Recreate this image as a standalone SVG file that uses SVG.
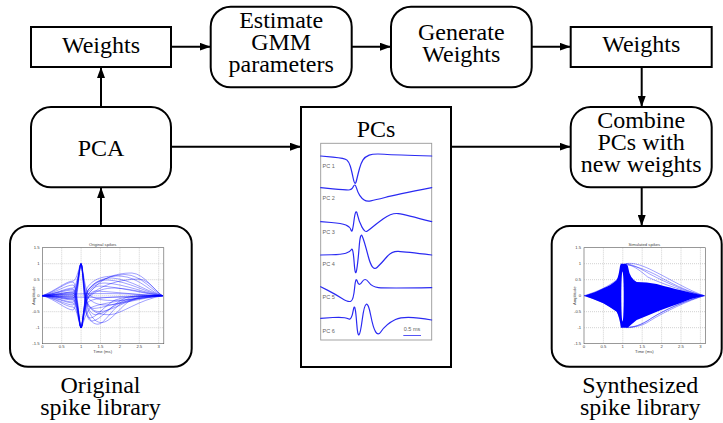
<svg xmlns="http://www.w3.org/2000/svg" width="723" height="423" viewBox="0 0 723 423">
<style>
.box{fill:#fff;stroke:#000;stroke-width:2}
.lbl{font-family:"Liberation Serif","DejaVu Serif",serif;font-size:24px;fill:#000;text-anchor:middle}
.conn{fill:none;stroke:#000;stroke-width:2;marker-end:url(#ah)}
.frame{fill:#fff;stroke:#555;stroke-width:0.6}
.grid{fill:none;stroke:#999;stroke-width:0.45;stroke-dasharray:1 1}
.tick{font-family:"Liberation Sans",Arial,sans-serif;font-size:4.2px;fill:#444}
.tr{fill:none;stroke:#0000ff;stroke-width:0.5;stroke-opacity:0.75}
.pc{fill:none;stroke:#2a2af2;stroke-width:1.2;stroke-linejoin:round;stroke-linecap:round}
.pcl{font-family:"Liberation Sans",Arial,sans-serif;font-size:5.5px;fill:#666}
</style>
<defs>
<marker id="ah" markerUnits="userSpaceOnUse" markerWidth="11" markerHeight="8" viewBox="0 0 11 8" refX="11" refY="4" orient="auto">
<path d="M0,0 L11,4 L0,8 z" fill="#000"/>
</marker>
<g id="axes">
<rect class="frame" x="42.3" y="247.7" width="121.5" height="96"/>
<path class="grid" d="M61.7,247.7V343.7M81.1,247.7V343.7M100.5,247.7V343.7M119.9,247.7V343.7M139.3,247.7V343.7M158.7,247.7V343.7M42.3,263.7H163.8M42.3,279.7H163.8M42.3,295.7H163.8M42.3,311.7H163.8M42.3,327.7H163.8"/>
<g class="tick" text-anchor="end">
<text x="39.5" y="249.2">1.5</text><text x="39.5" y="265.2">1</text><text x="39.5" y="281.2">0.5</text><text x="39.5" y="297.2">0</text><text x="39.5" y="313.2">-0.5</text><text x="39.5" y="329.2">-1</text><text x="39.5" y="345.2">-1.5</text>
</g>
<g class="tick" text-anchor="middle">
<text x="42.3" y="348.3">0</text><text x="61.7" y="348.3">0.5</text><text x="81.1" y="348.3">1</text><text x="100.5" y="348.3">1.5</text><text x="119.9" y="348.3">2</text><text x="139.3" y="348.3">2.5</text><text x="158.7" y="348.3">3</text>
<text x="102.7" y="352.6">Time (ms)</text>
<text x="0" y="0" transform="translate(34.5,295.7) rotate(-90)">Amplitude</text>
</g>
</g>
</defs>
<rect width="723" height="423" fill="#fff"/>

<g id="connectors">
<path class="conn" d="M171,46.7H210.7"/>
<path class="conn" d="M351.7,46.7H391"/>
<path class="conn" d="M531.7,46.7H570.7"/>
<path class="conn" d="M101,107V67"/>
<path class="conn" d="M101,226V187.3"/>
<path class="conn" d="M171,146.7H301"/>
<path class="conn" d="M451,146.7H570.7"/>
<path class="conn" d="M641.7,67V107"/>
<path class="conn" d="M641.7,187.3V226"/>
</g>

<g id="weights-left">
<rect class="box" x="31" y="27" width="140" height="40"/>
<text class="lbl" x="101" y="52.5">Weights</text>
</g>
<g id="estimate-gmm">
<rect class="box" x="210.7" y="6.7" width="141" height="80.6" rx="20"/>
<text class="lbl" x="281.2" y="27.5">Estimate</text>
<text class="lbl" x="281.2" y="49.5">GMM</text>
<text class="lbl" x="281.2" y="71.5">parameters</text>
</g>
<g id="generate-weights">
<rect class="box" x="391" y="6.7" width="140.7" height="80.6" rx="20"/>
<text class="lbl" x="461.3" y="40">Generate</text>
<text class="lbl" x="461.3" y="61.7">Weights</text>
</g>
<g id="weights-right">
<rect class="box" x="570.7" y="27" width="141" height="40"/>
<text class="lbl" x="641.2" y="52">Weights</text>
</g>
<g id="pca">
<rect class="box" x="31" y="107" width="140" height="80.3" rx="20"/>
<text class="lbl" x="101" y="155.7">PCA</text>
</g>
<g id="combine">
<rect class="box" x="570.7" y="107" width="141" height="80.3" rx="20"/>
<text class="lbl" x="641.2" y="128.3">Combine</text>
<text class="lbl" x="641.2" y="150">PCs with</text>
<text class="lbl" x="641.2" y="171.7">new weights</text>
</g>

<g id="pcs">
<rect class="box" x="301" y="107" width="150" height="260"/>
<text class="lbl" x="376" y="137.3">PCs</text>
<rect x="320.7" y="143.3" width="111" height="196.7" fill="#fff" stroke="#999" stroke-width="0.9"/>
<path class="pc" d="M320.7,156 L332.85,157.15 Q345,158.3 347,160.15 Q349,162 350.25,166 Q351.5,170 353.25,178.5 Q355,187 356.5,180.5 Q358,174 359.5,168.5 Q361,163 363,159.85 Q365,156.7 369.15,155.1 Q373.3,153.5 384.15,154.25 Q395,155 431.7,156"/>
<path class="pc" d="M320.7,187.7 L332.85,188.85 Q345,190 348.35,190 Q351.7,190 353.35,186.5 Q355,183 356.35,187.65 Q357.7,192.3 359.7,195.3 Q361.7,198.3 364.2,200 Q366.7,201.7 370.85,200.85 Q375,200 385,197.5 Q395,195 431.7,187.7"/>
<path class="pc" d="M320.7,221.7 L331.2,222.5 Q341.7,223.3 345.85,225 Q350,226.7 351.15,230.35 Q352.3,234 354,220.5 Q355.7,207 357.35,214.35 Q359,221.7 362,227.1 Q365,232.5 367,231.25 Q369,230 372,227.5 Q375,225 383.35,218.85 Q391.7,212.7 398.35,213.6 Q405,214.5 431.7,221.7"/>
<path class="pc" d="M320.7,255 L331.2,254.75 Q341.7,254.5 345.85,253.25 Q350,252 351.5,249.5 Q353,247 354.15,262.5 Q355.3,278 356.65,270 Q358,262 359.15,247 Q360.3,232 362.15,236 Q364,240 368.15,256 Q372.3,272 377,267.5 Q381.7,263 386.7,257 Q391.7,251 398.35,251.35 Q405,251.7 431.7,255"/>
<path class="pc" d="M320.7,286.7 L327.85,290.35 Q335,294 341.65,298.25 Q348.3,302.5 350.9,301.25 Q353.5,300 354.6,288 Q355.7,276 357.35,281.5 Q359,287 362,282 Q365,277 368.5,282 Q372,287 378.5,287.65 Q385,288.3 431.7,287.7"/>
<path class="pc" d="M320.7,318.3 L332.85,317.5 Q345,316.7 348.25,318.85 Q351.5,321 353.25,310.3 Q355,299.6 356.75,323.8 Q358.5,348 362.25,319.5 Q366,291 370.75,315.5 Q375.5,340 380.75,332 Q386,324 395.5,319.5 Q405,315 431.7,320"/>
<text class="pcl" x="322.5" y="167.5">PC 1</text>
<text class="pcl" x="322.5" y="200">PC 2</text>
<text class="pcl" x="322.5" y="233.5">PC 3</text>
<text class="pcl" x="322.5" y="266">PC 4</text>
<text class="pcl" x="322.5" y="299">PC 5</text>
<text class="pcl" x="322.5" y="332.5">PC 6</text>
<text class="pcl" x="412" y="331" text-anchor="middle" font-size="5">0.5 ms</text>
<path d="M403.3,335.5H421" stroke="#2a2af2" stroke-width="0.8"/>
</g>

<g id="original-library">
<rect class="box" x="10" y="226" width="181.7" height="140.7" rx="18"/>
<use href="#axes"/>
<text class="tick" x="102.7" y="245.5" text-anchor="middle">Original spikes</text>
<g class="tr">
<path d="M42.3,295.7 C55,295 66,292 73,292 C77,292 79.5,327.7 81,327.7 C82.5,327.7 84,300 87,288 C95,276 108,276 120,276 C140,277 152,294 162.6,295.7"/>
<path d="M42.3,295.7 C55,296 66,299 73,299 C77,299 79.5,327.7 81,327.7 C82.5,327.7 84,302 87,292 C93,282 100,280 108,280 C128,281 150,294 162.6,295.7"/>
<path d="M42.3,295.7 C55,294 66,289 73,289 C77,289 79.5,327.7 81,327.7 C82.5,327.7 84,305 87,296 C92,288 96,286 100,286 C120,287 145,294 162.6,295.7"/>
<path d="M42.3,295.7 C55,295.7 66,295 73,295 C77,295 79.5,327.7 81,327.7 C82.5,327.7 84,305 88,295 C100,278 115,273 132,273 C145,274 155,292 162.6,295.7"/>
<path d="M42.3,295.7 C55,293 66,285 73,285 C77,285 79.5,327.7 81,327.7 C82.5,327.7 84,308 88,298 C91,292 93,291 96,291 C115,292 140,295 162.6,295.7"/>
<path d="M42.3,295.7 C55,297 66,303 73,303 C77,303 79.5,327.7 81,327.7 C82.5,327.7 84,300 88,290 C96,280 104,278 112,278 C130,279 150,293 162.6,295.7"/>
<path d="M42.3,295.7 C55,295 66,293 73,293 C77,293 79.5,327.7 81,327.7 C82.5,327.7 84,312 88,302 C95,297 120,296 162.6,295.7"/>
<path d="M42.3,295.7 C55,296 66,297 73,297 C77,297 79.5,327.7 81,327.7 C82.5,327.7 84,316 90,308 C100,303 130,299 162.6,295.7"/>
<path d="M42.3,295.7 C55,294 66,290 73,290 C77,290 79.5,327.7 81,327.7 C82.5,327.7 84,298 88,290 C98,280 112,275 125,274.5 C142,275 153,292 162.6,295.7"/>
<path d="M42.3,295.7 C55,298 66,307 73,307 C77,307 79.5,327.7 81,327.7 C82.5,327.7 84,300 88,292 C94,285 99,283 105,283 C125,284 148,294 162.6,295.7"/>
<path d="M42.3,295.7 C55,292 66,282 73,282 C77,282 79.5,327.7 81,327.7 C82.5,327.7 84,305 88,297 C100,285 120,279 140,279 C150,281 157,293 162.6,295.7"/>
<path d="M42.3,295.7 C55,296.5 66,300 73,300 C77,300 79.5,327.7 81,327.7 C82.5,327.7 84,306 88,298 C96,290 105,288 115,288 C135,289 152,295 162.6,295.7"/>
<path d="M42.3,295.7 C55,296.5 66,299 73,299 C77,299 79.5,263.7 81,263.7 C82.5,263.7 84,300 86,312 C88,320 90,321 92,321 C100,321 112,304 125,298 C140,294 152,296 162.6,295.7"/>
<path d="M42.3,295.7 C55,295 66,292 73,292 C77,292 79.5,263.7 81,263.7 C82.5,263.7 84,295 87,305 C90,313 93,314.7 96,314.7 C105,314 118,302 130,298 C145,295 155,296 162.6,295.7"/>
<path d="M42.3,295.7 C55,297 66,302 73,302 C77,302 79.5,263.7 81,263.7 C82.5,263.7 84,300 87,312 C90,322 94,324.2 98,324.2 C104,324 110,312 120,304 C135,296 152,296 162.6,295.7"/>
<path d="M42.3,295.7 C55,295.7 66,296 73,296 C77,296 79.5,263.7 81,263.7 C82.5,263.7 84,292 87,302 C91,310 95,311.6 100,311.6 C112,311 128,300 140,297 C150,295.5 157,295.7 162.6,295.7"/>
<path d="M42.3,295.7 C55,294 66,288 73,288 C77,288 79.5,263.7 81,263.7 C82.5,263.7 84,290 88,298 C94,304 100,305 106,305 C120,305 140,298 162.6,295.7"/>
<path d="M42.3,295.7 C55,298 66,305 73,305 C77,305 79.5,263.7 81,263.7 C82.5,263.7 84,302 86,312 C87,316 88,318 90,318 C96,318 104,306 115,300 C130,295 150,296 162.6,295.7"/>
<path d="M42.3,295.7 C55,295 66,294 73,294 C77,294 79.5,263.7 81,263.7 C82.5,263.7 84,285 88,294 C95,300 105,300.5 115,300.5 C130,300 148,297 162.6,295.7"/>
<path d="M42.3,295.7 C55,299 66,310 73,310 C77,310 79.5,263.7 81,263.7 C82.5,263.7 84,298 88,310 C93,320 97,322.6 102,322.6 C110,322 118,310 128,302 C142,296 154,296 162.6,295.7"/>
<path d="M42.3,295.7 C55,291 66,281 73,281 C77,281 79.5,263.7 81,263.7 C82.5,263.7 84,294 87,302 C89,307 91,308.4 94,308.4 C105,308 125,299 162.6,295.7"/>
<path d="M42.3,295.7 C55,296 66,298 73,298 C77,298 79.5,263.7 81,263.7 C82.5,263.7 84,296 88,306 C95,314 102,314.7 110,314.7 C122,314 138,300 162.6,295.7"/>
<path d="M42.3,295.7 C60,294 100,293 130,294 C145,295 155,295.5 162.6,295.7"/>
<path d="M42.3,295.7 C60,297 100,298 130,297 C145,296.5 155,296 162.6,295.7"/>
</g>
</g>
<g id="original-label">
<text class="lbl" x="100.5" y="392.7">Original</text>
<text class="lbl" x="100.5" y="415">spike library</text>
</g>

<g id="synthesized-library">
<rect class="box" x="551.7" y="226" width="170" height="140.7" rx="18"/>
<use href="#axes" x="541.7"/>
<g transform="translate(541.7,0)">
<text class="tick" x="102.7" y="245.5" text-anchor="middle">Simulated spikes</text>
<path fill="#0000ff" d="M42.3,295.7 Q55,292 61.6,288.3 Q70,285 75,280 Q77,276 78.3,266 L79.3,263.7 L84,263.7 Q86,264 86.6,268 Q88,278 95,282 Q105,282 115,284 Q130,288 138.3,290 Q150,293 162.6,295.7 Q150,298 138.3,303.3 Q125,308 115,311.7 Q100,318 95,320 Q90,324 86,327.7 L79.3,327.7 Q78,318 75,311.7 Q68,307 61.6,303.3 Q52,299 42.3,295.7 Z"/>
<g class="tr" stroke-width="0.45">
<path d="M84,263.7 C92,262 102,266 112,271 C128,279 148,291 162.6,295.7"/>
<path d="M84,263.7 C90,264 98,268 108,274 C125,283 148,293 162.6,295.7"/>
<path d="M86,265 C95,266 110,272 120,278 C135,286 150,293 162.6,295.7"/>
<path d="M85,264 C93,266 100,272 106,277 C120,284 148,293 162.6,295.7"/>
<path d="M86,327.7 C94,328 104,322 115,315 C130,306 150,299 162.6,295.7"/>
<path d="M84,327.7 C90,327 100,326 110,318 C125,309 148,299 162.6,295.7"/>
<path d="M88,327 C96,327 102,325 108,321 C122,312 148,300 162.6,295.7"/>
<path d="M42.3,295.7 C55,292 68,286 76,279 C78,276 79,268 79.5,263.7"/>
<path d="M42.3,295.7 C55,299 68,305 76,312 C78,316 79,323 79.5,327.7"/>
</g>
<ellipse cx="80.8" cy="296.5" rx="1.2" ry="25" fill="#fff"/>
</g>
</g>
<g id="synthesized-label">
<text class="lbl" x="640.2" y="392.7">Synthesized</text>
<text class="lbl" x="640.2" y="415">spike library</text>
</g>
</svg>
